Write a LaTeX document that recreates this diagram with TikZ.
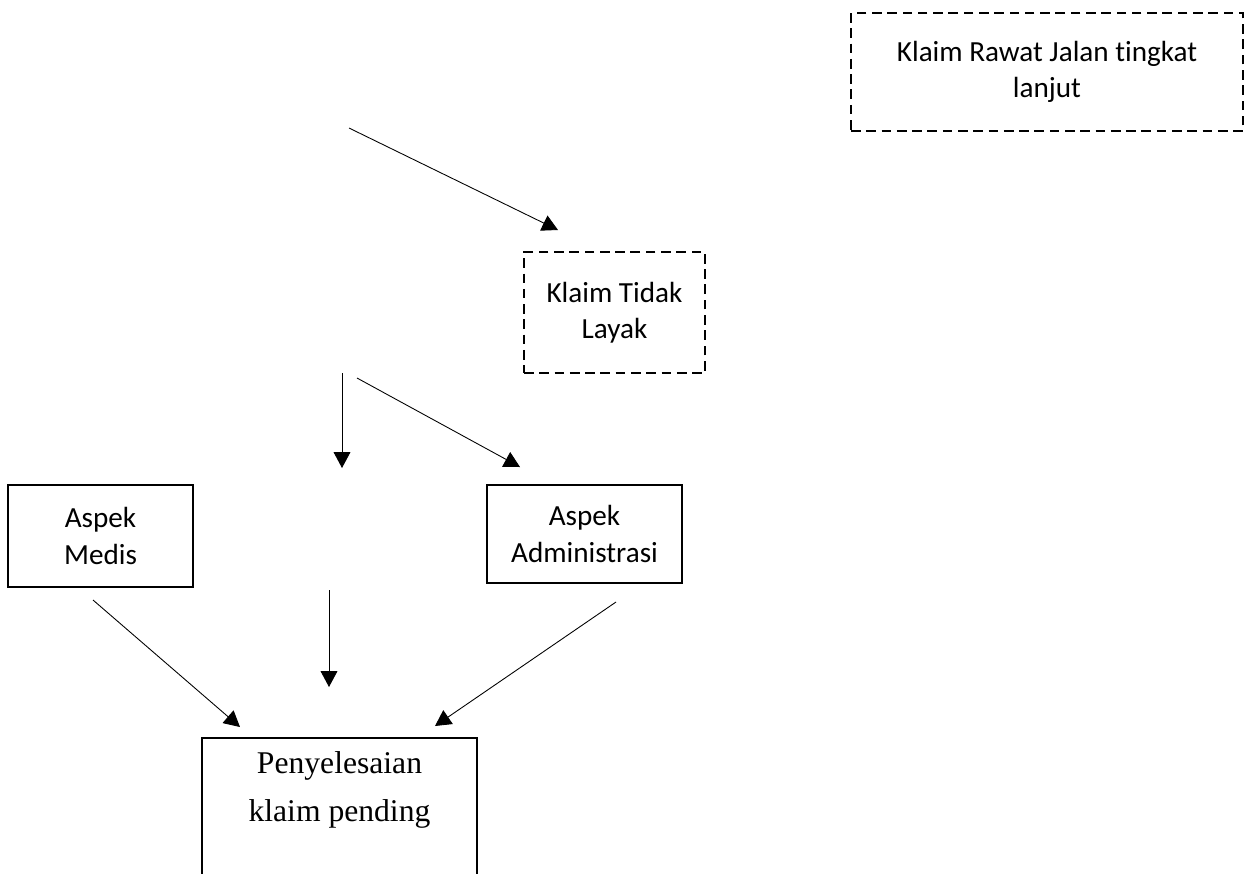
\documentclass[tikz,border=0pt]{standalone}
\usepackage{fontspec}
\setmainfont{Carlito}[Ligatures=NoCommon]
\newfontfamily\timesfont{Liberation Serif}
\usetikzlibrary{arrows.meta}

\begin{document}
\begin{tikzpicture}[x=0.02cm, y=-0.02cm,
  font=\fontsize{16.6}{20.6}\selectfont,
  solidbox/.style={draw, line width=1.3pt, inner sep=0pt, align=center},
  dashbox/.style={draw, line width=1.3pt, dash pattern=on 5.5pt off 3.2pt, inner sep=0pt, align=center},
  arr/.style={-{Triangle[length=9pt,width=9.5pt]}, line width=0.5pt}]
  \clip (0,0) rectangle (1246,873);

  % boxes
  \node[dashbox, minimum width=7.84cm, minimum height=2.36cm] (rawat) at (1047,72) {Klaim Rawat Jalan tingkat\\lanjut};
  \node[dashbox, minimum width=3.62cm, minimum height=2.42cm] (tidak) at (614.5,312.5) {Klaim Tidak\\Layak};
  \node[solidbox, minimum width=3.7cm, minimum height=2.04cm] (medis) at (100.5,536) {Aspek\\Medis};
  \node[solidbox, minimum width=3.9cm, minimum height=1.96cm] (admin) at (584.5,534) {Aspek\\Administrasi};
  \node[solidbox, minimum width=5.5cm, minimum height=4cm, anchor=north] (pend) at (339.5,737) {};
  \node[align=center, inner sep=0pt, font=\timesfont\fontsize{18}{27.2}\selectfont] (pendtxt) at (339.5,790) {Penyelesaian\\klaim pending};

  % arrow ends
  \coordinate (a1) at (349,128);
  \coordinate (b1) at (558,230);
  \coordinate (a2) at (342,373);
  \coordinate (b2) at (342,468);
  \coordinate (a3) at (357,378);
  \coordinate (b3) at (520,467);
  \coordinate (a4) at (93,600);
  \coordinate (b4) at (240,727);
  \coordinate (a5) at (329,590);
  \coordinate (b5) at (329,687);
  \coordinate (a6) at (616,602);
  \coordinate (b6) at (435,726);

  \draw[arr] (a1) -- (b1);
  \draw[arr] (a2) -- (b2);
  \draw[arr] (a3) -- (b3);
  \draw[arr] (a4) -- (b4);
  \draw[arr] (a5) -- (b5);
  \draw[arr] (a6) -- (b6);
\end{tikzpicture}
\end{document}
